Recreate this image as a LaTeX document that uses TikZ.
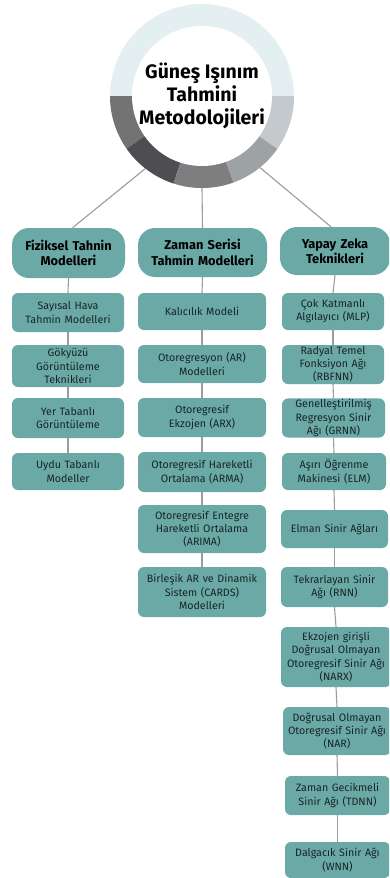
\documentclass[tikz,border=0pt]{standalone}
\usepackage{fontspec}
\setmainfont{Fira Sans}
\definecolor{tealbox}{HTML}{6BA9A7}
\definecolor{txtc}{HTML}{172525}
\definecolor{linec}{HTML}{9C9C9C}
\definecolor{ringtop}{HTML}{E4EFF1}
\definecolor{ringa}{HTML}{737373}
\definecolor{ringb}{HTML}{4D4D52}
\definecolor{ringc}{HTML}{7E7E81}
\definecolor{ringd}{HTML}{9DA2A5}
\definecolor{ringe}{HTML}{C3C9CC}
\begin{document}
\begin{tikzpicture}[x=1pt,y=-1pt,
  wbox/.style n args={2}{rectangle, rounded corners=6pt, fill=tealbox, inner xsep=0pt, inner ysep=1pt,
    align=center, font=\fontsize{10.7}{13.2}\selectfont, text=txtc,
    minimum width=#1, text width=#1, minimum height=#2},
  whead/.style n args={2}{rectangle, rounded corners=17pt, fill=tealbox, inner xsep=0pt, inner ysep=1pt,
    align=center, font=\bfseries\fontsize{12.8}{15.2}\selectfont, text=black,
    minimum width=#1, text width=#1, minimum height=#2},
  conn/.style={draw=linec, line width=1.1pt}]
\clip (0,0) rectangle (389,878);
\fill[white] (0,0) rectangle (389,878);

% ring
\fill[ringtop] (202,96) circle[radius=92];
\fill[ringa] (202,96) -- ++(145:92) arc[start angle=145,end angle=180,radius=92] -- cycle;
\fill[ringb] (202,96) -- ++(108:92) arc[start angle=108,end angle=145,radius=92] -- cycle;
\fill[ringc] (202,96) -- ++(70:92) arc[start angle=70,end angle=108,radius=92] -- cycle;
\fill[ringd] (202,96) -- ++(35:92) arc[start angle=35,end angle=70,radius=92] -- cycle;
\fill[ringe] (202,96) -- ++(0:92) arc[start angle=0,end angle=35,radius=92] -- cycle;
\fill[white] (202,96) circle[radius=70];
\node[circle, minimum size=184pt, inner sep=0pt] (c) at (202,96) {};
\node[align=center, font=\bfseries\fontsize{19.5}{23}\selectfont, text=black] (title) at (202,96) {Güneş Işınım\\Tahmini\\Metodolojileri};

% headers
\node[whead={113pt}{50pt}] (F) at (68.5,253) {Fiziksel Tahnin\\Modelleri};
\node[whead={129pt}{49pt}] (Z) at (202.5,252.5) {Zaman Serisi\\Tahmin Modelleri};
\node[whead={110pt}{48pt}] (Y) at (335,251) {Yapay Zeka\\Teknikleri};

% left column
\node[wbox={112pt}{39pt}] (L1) at (68,312.5) {Sayısal Hava\\Tahmin Modelleri};
\node[wbox={112pt}{42pt}] (L2) at (68,366) {Gökyüzü\\Görüntüleme\\Teknikleri};
\node[wbox={112pt}{40pt}] (L3) at (68,418) {Yer Tabanlı\\Görüntüleme};
\node[wbox={112pt}{37pt}] (L4) at (68,471.5) {Uydu Tabanlı\\Modeller};

% middle column
\node[wbox={128pt}{37pt}] (M1) at (202,311.5) {Kalıcılık Modeli};
\node[wbox={128pt}{38pt}] (M2) at (202,364) {Otoregresyon (AR)\\Modelleri};
\node[wbox={128pt}{39pt}] (M3) at (202,417.5) {Otoregresif\\Ekzojen (ARX)};
\node[wbox={128pt}{40pt}] (M4) at (202,472) {Otoregresif Hareketli\\Ortalama (ARMA)};
\node[wbox={128pt}{48pt}] (M5) at (202,529) {Otoregresif Entegre\\Hareketli Ortalama\\(ARIMA)};
\node[wbox={128pt}{50pt}] (M6) at (202,592) {Birleşik AR ve Dinamik\\Sistem (CARDS)\\Modelleri};

% right column
\node[wbox={102pt}{37pt}] (R1) at (333,311.5) {Çok Katmanlı\\Algılayıcı (MLP)};
\node[wbox={102pt}{39pt}] (R2) at (333,364.5) {Radyal Temel\\Fonksiyon Ağı\\(RBFNN)};
\node[wbox={103pt}{38pt}] (R3) at (333.5,418) {Genelleştirilmiş\\Regresyon Sinir\\Ağı (GRNN)};
\node[wbox={104pt}{37pt}] (R4) at (334,471.5) {Aşırı Öğrenme\\Makinesi (ELM)};
\node[wbox={107pt}{38pt}] (R5) at (334.5,529) {Elman Sinir Ağları};
\node[wbox={107pt}{40pt}] (R6) at (334.5,587) {Tekrarlayan Sinir\\Ağı (RNN)};
\node[wbox={110pt}{60pt}] (R7) at (336,657) {Ekzojen girişli\\Doğrusal Olmayan\\Otoregresif Sinir Ağı\\(NARX)};
\node[wbox={108pt}{48pt}] (R8) at (337,731) {Doğrusal Olmayan\\Otoregresif Sinir Ağı\\(NAR)};
\node[wbox={105pt}{39pt}] (R9) at (337.5,795.5) {Zaman Gecikmeli\\Sinir Ağı (TDNN)};
\node[wbox={105pt}{36pt}] (R10) at (337.5,860) {Dalgacık Sinir Ağı\\(WNN)};

% connectors from the circle
\draw[conn] (c.232) -- ([xshift=4pt]F.north);
\draw[conn] (c.south) -- (Z.north);
\draw[conn] (c.309) -- ([xshift=-4pt]Y.north);

% column connectors
\draw[conn] (F.south) -- (L1.north);
\draw[conn] (L1.south) -- (L2.north);
\draw[conn] (L2.south) -- (L3.north);
\draw[conn] (L3.south) -- (L4.north);

\draw[conn] (Z.south) -- (M1.north);
\draw[conn] (M1.south) -- (M2.north);
\draw[conn] (M2.south) -- (M3.north);
\draw[conn] (M3.south) -- (M4.north);
\draw[conn] (M4.south) -- (M5.north);
\draw[conn] (M5.south) -- (M6.north);

\draw[conn] (Y.south) -- (R1.north);
\draw[conn] (R1.south) -- (R2.north);
\draw[conn] (R2.south) -- (R3.north);
\draw[conn] (R3.south) -- (R4.north);
\draw[conn] (R4.south) -- (R5.north);
\draw[conn] (R5.south) -- (R6.north);
\draw[conn] (R6.south) -- (R7.north);
\draw[conn] (R7.south) -- (R8.north);
\draw[conn] (R8.south) -- (R9.north);
\draw[conn] (R9.south) -- (R10.north);
\end{tikzpicture}
\end{document}
